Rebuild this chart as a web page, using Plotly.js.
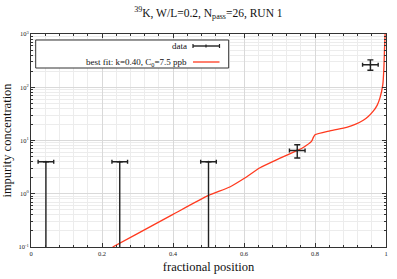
<!DOCTYPE html>
<html><head><meta charset="utf-8">
<script src="https://cdn.plot.ly/plotly-3.0.1.min.js"></script>
<style>html,body{margin:0;padding:0;background:#fff}#chart{width:397px;height:279px}</style>
</head><body><div id="chart"></div>
<script>
// measured data
const posX = [0.042, 0.25, 0.50, 0.75, 0.956];
const conc = [4.0, 4.0, 4.0, 6.5, 265];
const concErrPlus = [0, 0, 0, 1.8, 62];
const concErrMinus = [4.0, 4.0, 4.0, 1.8, 56];
const posErr = [0.022, 0.022, 0.022, 0.022, 0.022];
// best fit curve
const fitX = [0.23, 0.30, 0.40, 0.50, 0.56, 0.60, 0.645, 0.70, 0.75, 0.767, 0.79, 0.795, 0.80, 0.842, 0.889, 0.913, 0.936, 0.95, 0.964, 0.975, 0.983, 0.991, 0.994, 0.996, 0.9975];
const fitY = [0.10, 0.178, 0.41, 0.93, 1.34, 1.93, 3.07, 4.6, 6.5, 7.4, 9.6, 11.3, 12.8, 15.2, 17.7, 20, 24, 28.2, 35.5, 45.7, 63, 112, 224, 562, 1000];
const xTicks = [0, 0.2, 0.4, 0.6, 0.8, 1];
const xTickText = ['0', '0.2', '0.4', '0.6', '0.8', '1'];
const yTicks = [0.1, 1, 10, 100, 1000];
const yTickText = ['10<sup>-1</sup>', '10<sup>0</sup>', '10<sup>1</sup>', '10<sup>2</sup>', '10<sup>3</sup>'];
const legendData = 'data';
const legendFit = 'best fit: k=0.40, C<sub>0</sub>=7.5 ppb';

const serif = 'Liberation Serif, Times New Roman, serif';
const fitColor = '#ff3a1f';

const traces = [
  {
    x: fitX, y: fitY, type: 'scatter', mode: 'lines',
    line: {color: fitColor, width: 1.3, shape: 'spline', smoothing: 0.6}, hoverinfo: 'skip', cliponaxis: true
  },
  {
    x: posX, y: conc, type: 'scatter', mode: 'markers',
    marker: {size: 2, color: '#222'},
    error_y: {type: 'data', symmetric: false, array: concErrPlus, arrayminus: concErrMinus, color: '#222', thickness: 1.4, width: 3},
    error_x: {type: 'data', array: posErr, color: '#222', thickness: 1.4, width: 2},
    cliponaxis: true
  }
];

const L = 31, R = 386, T = 34, B = 247;
const px = v => (v - L) / (R - L);
const py = v => (B - v) / (B - T);

const shapes = [
  {type: 'rect', xref: 'paper', yref: 'paper', x0: px(35.7), x1: px(228.7), y0: py(68), y1: py(40), line: {color: '#333', width: 1}, fillcolor: '#fff'},
  {type: 'line', xref: 'paper', yref: 'paper', x0: px(193), x1: px(219.5), y0: py(46), y1: py(46), line: {color: '#222', width: 1.4}},
  {type: 'line', xref: 'paper', yref: 'paper', x0: px(193), x1: px(193), y0: py(44), y1: py(48), line: {color: '#222', width: 1.2}},
  {type: 'line', xref: 'paper', yref: 'paper', x0: px(206), x1: px(206), y0: py(44.5), y1: py(47.5), line: {color: '#222', width: 1.2}},
  {type: 'line', xref: 'paper', yref: 'paper', x0: px(219.5), x1: px(219.5), y0: py(44), y1: py(48), line: {color: '#222', width: 1.2}},
  {type: 'line', xref: 'paper', yref: 'paper', x0: px(193), x1: px(219.5), y0: py(62), y1: py(62), line: {color: fitColor, width: 1.3}}
];

const annotations = [
  {xref: 'paper', yref: 'paper', x: px(189), y: py(46), xanchor: 'right', yanchor: 'middle', text: legendData, showarrow: false, font: {family: serif, size: 9, color: '#111'}},
  {xref: 'paper', yref: 'paper', x: px(189), y: py(62), xanchor: 'right', yanchor: 'middle', text: legendFit, showarrow: false, font: {family: serif, size: 9, color: '#111'}}
];

const layout = {
  width: 397, height: 279,
  margin: {l: L, r: 397 - R, t: T, b: 279 - B},
  paper_bgcolor: '#fff', plot_bgcolor: '#fff',
  showlegend: false,
  title: {text: '<sup>39</sup>K, W/L=0.2, N<sub>pass</sub>=26, RUN 1', font: {family: serif, size: 11.5, color: '#111'}, x: 0.525, xanchor: 'center', y: 0.955, yanchor: 'middle'},
  xaxis: {
    range: [0, 1], tickvals: xTicks, ticktext: xTickText,
    ticks: 'inside', ticklen: 4, tickcolor: '#333', tickwidth: 1,
    showline: true, linecolor: '#333', linewidth: 1, mirror: 'allticks',
    showgrid: true, gridcolor: '#d9d9d9', gridwidth: 1, zeroline: false,
    minor: {dtick: 0.04, tick0: 0, ticks: 'inside', ticklen: 2, tickcolor: '#333', showgrid: true, gridcolor: '#ececec', gridwidth: 1},
    tickfont: {family: serif, size: 6.5, color: '#222'},
    title: {text: 'fractional position', font: {family: serif, size: 12.5, color: '#111'}, standoff: 6}
  },
  yaxis: {
    type: 'log', range: [-1, 3], tickvals: yTicks, ticktext: yTickText,
    ticks: 'inside', ticklen: 4, tickcolor: '#333', tickwidth: 1,
    showline: true, linecolor: '#333', linewidth: 1, mirror: 'allticks',
    showgrid: true, gridcolor: '#d9d9d9', gridwidth: 1, zeroline: false,
    minor: {dtick: 'D1', ticks: 'inside', ticklen: 2, tickcolor: '#333', showgrid: true, gridcolor: '#ececec', gridwidth: 1},
    tickfont: {family: serif, size: 6.5, color: '#222'},
    title: {text: 'impurity concentration', font: {family: serif, size: 12.5, color: '#111'}, standoff: 4}
  },
  shapes: shapes,
  annotations: annotations
};

Plotly.newPlot('chart', traces, layout, {staticPlot: true, displayModeBar: false});
</script>
</body></html>
